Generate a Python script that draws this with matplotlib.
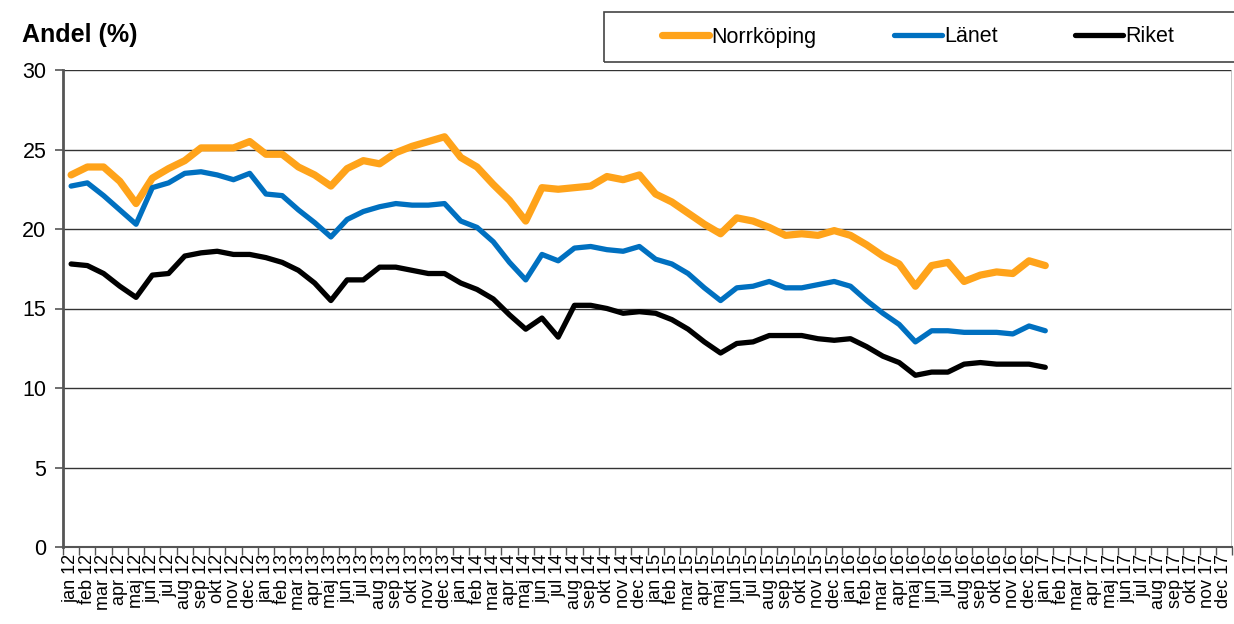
import numpy as np
import matplotlib.pyplot as plt
from matplotlib.patches import Rectangle

plt.rcParams['font.family'] = ['Liberation Sans', 'DejaVu Sans']

months = ['jan', 'feb', 'mar', 'apr', 'maj', 'jun', 'jul', 'aug', 'sep', 'okt', 'nov', 'dec']
years = ['12', '13', '14', '15', '16', '17']
labels = [m + ' ' + y for y in years for m in months]

norrkoping = [23.4, 23.9, 23.9, 23.0, 21.6, 23.2, 23.8, 24.3, 25.1, 25.1, 25.1, 25.5,
              24.7, 24.7, 23.9, 23.4, 22.7, 23.8, 24.3, 24.1, 24.8, 25.2, 25.5, 25.8,
              24.5, 23.9, 22.8, 21.8, 20.5, 22.6, 22.5, 22.6, 22.7, 23.3, 23.1, 23.4,
              22.2, 21.7, 21.0, 20.3, 19.7, 20.7, 20.5, 20.1, 19.6, 19.7, 19.6, 19.9,
              19.6, 19.0, 18.3, 17.8, 16.4, 17.7, 17.9, 16.7, 17.1, 17.3, 17.2, 18.0,
              17.7]
lanet = [22.7, 22.9, 22.1, 21.2, 20.3, 22.6, 22.9, 23.5, 23.6, 23.4, 23.1, 23.5,
         22.2, 22.1, 21.2, 20.4, 19.5, 20.6, 21.1, 21.4, 21.6, 21.5, 21.5, 21.6,
         20.5, 20.1, 19.2, 17.9, 16.8, 18.4, 18.0, 18.8, 18.9, 18.7, 18.6, 18.9,
         18.1, 17.8, 17.2, 16.3, 15.5, 16.3, 16.4, 16.7, 16.3, 16.3, 16.5, 16.7,
         16.4, 15.5, 14.7, 14.0, 12.9, 13.6, 13.6, 13.5, 13.5, 13.5, 13.4, 13.9,
         13.6]
riket = [17.8, 17.7, 17.2, 16.4, 15.7, 17.1, 17.2, 18.3, 18.5, 18.6, 18.4, 18.4,
         18.2, 17.9, 17.4, 16.6, 15.5, 16.8, 16.8, 17.6, 17.6, 17.4, 17.2, 17.2,
         16.6, 16.2, 15.6, 14.6, 13.7, 14.4, 13.2, 15.2, 15.2, 15.0, 14.7, 14.8,
         14.7, 14.3, 13.7, 12.9, 12.2, 12.8, 12.9, 13.3, 13.3, 13.3, 13.1, 13.0,
         13.1, 12.6, 12.0, 11.6, 10.8, 11.0, 11.0, 11.5, 11.6, 11.5, 11.5, 11.5,
         11.3]

fig = plt.figure(figsize=(12.34, 6.24), dpi=100)
ax = fig.add_axes([63 / 1234, 77 / 624, 1169 / 1234, 477 / 624])

x = np.arange(len(norrkoping))
ax.plot(x, norrkoping, color='#FFA31A', lw=5.2, solid_capstyle='round', label='Norrköping')
ax.plot(x, lanet, color='#0070C0', lw=3.8, solid_capstyle='round', label='Länet')
ax.plot(x, riket, color='black', lw=3.8, solid_capstyle='round', label='Riket')

ax.set_xlim(-0.5, len(labels) - 0.5)
ax.set_ylim(0, 30)
ax.set_yticks(range(0, 31, 5))
ax.tick_params(axis='y', labelsize=15.5, length=6, width=1.2, color='#555555', pad=6)
ax.yaxis.grid(True, color='#333333', lw=1)
ax.set_axisbelow(True)

ax.set_xticks(np.arange(len(labels)))
ax.set_xticklabels(labels, rotation=90, fontsize=13)
ax.tick_params(axis='x', which='major', length=0, pad=5)
ax.set_xticks(np.arange(len(labels) + 1) - 0.5, minor=True)
ax.tick_params(axis='x', which='minor', length=6, width=1, color='#555555')

for s in ['top', 'right']:
    ax.spines[s].set_visible(False)
ax.spines['left'].set_color('#555555')
ax.spines['left'].set_linewidth(2)
ax.spines['bottom'].set_color('#555555')
ax.spines['bottom'].set_linewidth(1.5)
ax.axvline(len(labels) - 0.5, color='#bbbbbb', lw=1.2)

fig.text(22 / 1234, 1 - 35 / 624, 'Andel (%)', fontsize=18, fontweight='bold', va='center')

# legend frame drawn separately so it can run off the right edge like the original
fig.patches.append(Rectangle((604 / 1234, 1 - 62 / 624), 640 / 1234, 50 / 624,
                             transform=fig.transFigure, fill=False,
                             edgecolor='#444444', lw=1.2))
leg = fig.legend(loc='center', bbox_to_anchor=(918 / 1234, 1 - 37 / 624),
                 ncol=3, handlelength=2.2, handletextpad=0.12, columnspacing=3.6,
                 frameon=False, borderaxespad=0, fontsize=15.5)

fig.savefig('out.png', dpi=100)
